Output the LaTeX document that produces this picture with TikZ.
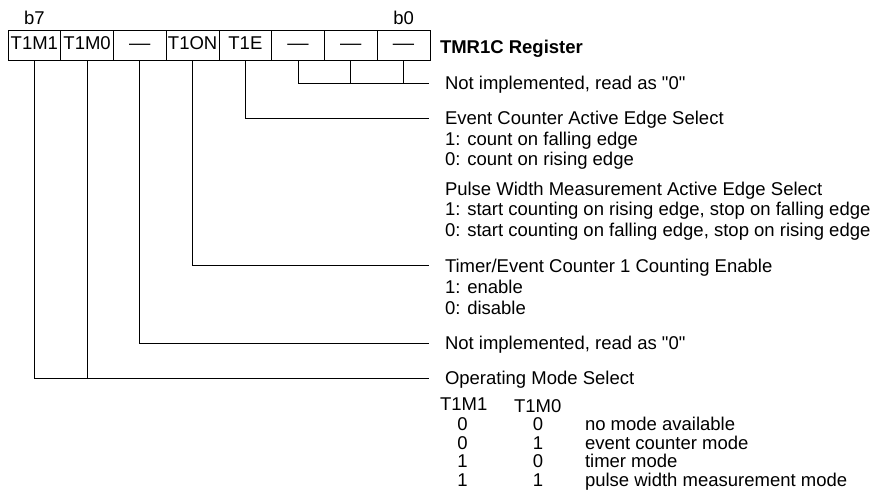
\documentclass[tikz,border=0pt]{standalone}
\usepackage{fontspec}
\setmainfont{Liberation Sans}[Ligatures=TeXOff]
\begin{document}
\begin{tikzpicture}[x=1pt,y=-1pt,
  txt/.style={inner sep=0pt, outer sep=0pt, font=\fontsize{18.5}{20.5}\selectfont},
  desc/.style={txt, anchor=base west},
  num/.style={txt, anchor=base},
  regbox/.style={draw, line width=1pt, minimum width=52.75pt, minimum height=29.5pt,
    inner sep=0pt, outer sep=0pt, text height=13.2pt, text depth=5.2pt,
    font=\fontsize{18.5}{20.5}\selectfont},
  conn/.style={line width=1pt}]
\useasboundingbox (0,0) rectangle (872,496);

% register boxes
\node[regbox] (r7) at (34.375,45.25) {T1M1};
\node[regbox] (r6) at (87.125,45.25) {T1M0};
\node[regbox] (r5) at (139.875,45.25) {\scalebox{1.15}[1]{—}};
\node[regbox] (r4) at (192.625,45.25) {T1ON};
\node[regbox] (r3) at (245.375,45.25) {T1E};
\node[regbox] (r2) at (298.125,45.25) {\scalebox{1.15}[1]{—}};
\node[regbox] (r1) at (350.875,45.25) {\scalebox{1.15}[1]{—}};
\node[regbox] (r0) at (403.625,45.25) {\scalebox{1.15}[1]{—}};

\node[num] (b7) at (34.375,24) {b7};
\node[num] (b0) at (403.625,24) {b0};
\node[desc, font=\fontsize{18.5}{20.5}\selectfont\bfseries] (title) at (440,53) {TMR1C Register};

% line ends
\coordinate (c0) at (429,83);
\coordinate (c1) at (429,118);
\coordinate (c2) at (429,265.5);
\coordinate (c3) at (429,343);
\coordinate (c4) at (429,378);

\draw[conn] (r2.south) |- (c0);
\draw[conn] (r1.south) -- (r1.south |- c0);
\draw[conn] (r0.south) -- (r0.south |- c0);
\draw[conn] (r3.south) |- (c1);
\draw[conn] (r4.south) |- (c2);
\draw[conn] (r5.south) |- (c3);
\draw[conn] (r7.south) |- (c4);
\draw[conn] (r6.south) -- (r6.south |- c4);

% descriptions
\node[desc] (d0) at (445,89.5) {Not implemented, read as "0"};
\node[desc] (d1a) at (445,124.5) {Event Counter Active Edge Select};
\node[desc] (d1b) at (445,145) {1: count on falling edge};
\node[desc] (d1c) at (445,165.5) {0: count on rising edge};
\node[desc] (d1d) at (445,195) {Pulse Width Measurement Active Edge Select};
\node[desc] (d1e) at (445,215.8) {1: start counting on rising edge, stop on falling edge};
\node[desc] (d1f) at (445,236.5) {0: start counting on falling edge, stop on rising edge};
\node[desc] (d2a) at (445,272.3) {Timer/Event Counter 1 Counting Enable};
\node[desc] (d2b) at (445,293.3) {1: enable};
\node[desc] (d2c) at (445,314.3) {0: disable};
\node[desc] (d3) at (445,349.5) {Not implemented, read as "0"};
\node[desc] (d4) at (445,384.5) {Operating Mode Select};

% mode table
\node[desc] (h1) at (440,410) {T1M1};
\node[desc] (h0) at (514,412) {T1M0};
\node[num] (m00) at (462.5,430.5) {0};
\node[num] (m01) at (538,430.5) {0};
\node[desc] (t0) at (585,430.5) {no mode available};
\node[num] (m10) at (462.5,449) {0};
\node[num] (m11) at (538,449) {1};
\node[desc] (t1) at (585,449) {event counter mode};
\node[num] (m20) at (462.5,467.5) {1};
\node[num] (m21) at (538,467.5) {0};
\node[desc] (t2) at (585,467.5) {timer mode};
\node[num] (m30) at (462.5,486) {1};
\node[num] (m31) at (538,486) {1};
\node[desc] (t3) at (585,486) {pulse width measurement mode};
\end{tikzpicture}
\end{document}
